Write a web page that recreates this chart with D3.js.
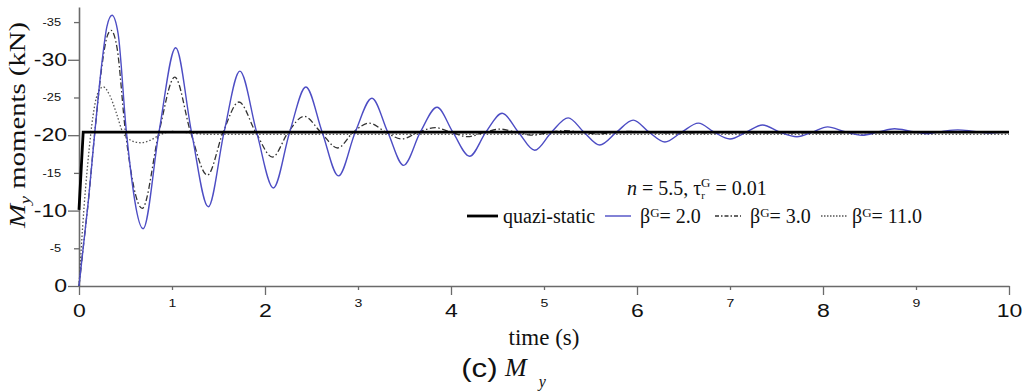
<!DOCTYPE html>
<html><head><meta charset="utf-8">
<script src="https://cdn.jsdelivr.net/npm/d3@7"></script>
<style>body{margin:0;background:#fff}</style>
</head><body><svg id="c" width="1022" height="392"></svg>
<script>
// ---------- data ----------
const xTicks = [0,1,2,3,4,5,6,7,8,9,10];
const yTicks = [0,-5,-10,-15,-20,-25,-30,-35];

const quasiT = [0, 0.045, 10];
const quasiV = [-10.1, -20.4, -20.4];

const b2T = [0,0.05,0.1,0.17,0.25,0.3,0.355,0.42,0.51,0.69,0.86,1.04,1.21,1.39,1.56,1.73,1.91,2.09,2.265,2.44,2.615,2.79,2.97,3.15,3.32,3.49,3.67,3.85,4.02,4.2,4.375,4.55,4.725,4.9,5.08,5.26,5.43,5.6,5.78,5.96,6.13,6.3,6.48,6.66,6.83,7.0,7.175,7.35,7.535,7.72,7.885,8.05,8.235,8.42,8.6,8.77,8.95,9.12,9.285,9.45,9.625,9.8,9.98];
const b2V = [0,-5.6,-11.2,-20.4,-30.0,-34.4,-35.9,-33.5,-20.4,-7.6,-20.4,-31.6,-20.4,-10.5,-20.4,-28.5,-20.4,-13.0,-20.4,-26.4,-20.4,-14.6,-20.4,-24.9,-20.4,-16.0,-20.4,-23.7,-20.4,-17.2,-20.4,-22.9,-20.4,-18.0,-20.4,-22.3,-20.4,-18.7,-20.4,-22.0,-20.4,-19.1,-20.4,-21.6,-20.4,-19.5,-20.4,-21.35,-20.4,-19.8,-20.4,-21.1,-20.45,-20.0,-20.45,-20.85,-20.5,-20.2,-20.5,-20.7,-20.5,-20.3,-20.45];

const b3T = [0,0.05,0.1,0.17,0.25,0.3,0.345,0.41,0.5,0.68,0.86,1.03,1.2,1.38,1.55,1.72,1.9,2.08,2.25,2.42,2.6,2.78,2.95,3.12,3.3,3.47,3.65,3.83,4.0,4.18,4.36,4.53,4.7,4.88,5.06,5.23,5.4,5.58,5.76,5.93,6.3,10];
const b3V = [0,-5.6,-11.2,-20.4,-29.5,-33.0,-33.9,-31.5,-20.4,-10.3,-20.4,-27.7,-20.4,-14.7,-20.4,-24.4,-20.4,-17.1,-20.4,-22.5,-20.4,-18.3,-20.4,-21.6,-20.4,-19.5,-20.4,-21.0,-20.4,-19.8,-20.4,-20.8,-20.4,-20.0,-20.4,-20.6,-20.4,-20.15,-20.4,-20.5,-20.3,-20.4];

const b11T = [0,0.04,0.1,0.15,0.2,0.26,0.33,0.4,0.47,0.56,0.66,0.76,0.88,1.0,1.15,1.4,10];
const b11V = [0,-8,-17,-22.5,-25.5,-26.4,-25.3,-23,-20.4,-19.3,-19.0,-19.3,-20.1,-20.5,-20.35,-20.1,-20.1];

const legendNames = ["quazi-static", "2.0", "3.0", "11.0"];

// ---------- drawing ----------
const svg = d3.select("#c");
const x = d3.scaleLinear().domain([0,10]).range([79,1009]);
const y = d3.scaleLinear().domain([0,-37]).range([286,7]);
const axisColor = "#6a6a6a";
const SX = 1.28;

// x axis
const gx = svg.append("g").attr("transform","translate(0,286)")
  .call(d3.axisBottom(x).tickValues(xTicks).tickSizeOuter(0).tickFormat(d3.format("d")));
gx.select(".domain").attr("stroke",axisColor).attr("stroke-width",1.6);
gx.selectAll(".tick line").attr("stroke",axisColor).attr("stroke-width",1.3)
  .attr("y2", d => d % 2 === 0 ? 9 : 4);
gx.selectAll(".tick text")
  .attr("font-family","'Liberation Sans', Arial, sans-serif")
  .attr("fill","#111")
  .attr("font-size", d => d % 2 === 0 ? 18 : 11)
  .attr("dy", null)
  .attr("y", d => d % 2 === 0 ? 31 : 21)
  .attr("transform", `scale(${SX},1)`);

// y axis
const gy = svg.append("g").attr("transform","translate(79,0)")
  .call(d3.axisLeft(y).tickValues(yTicks).tickSizeOuter(0)
    .tickFormat(d => d === 0 ? "0" : "-" + Math.abs(d)));
gy.select(".domain").attr("stroke",axisColor).attr("stroke-width",1.6);
gy.selectAll(".tick line").attr("stroke",axisColor).attr("stroke-width",1.3)
  .attr("x2", d => d % 10 === 0 ? -11 : -5);
gy.selectAll(".tick text")
  .attr("font-family","'Liberation Sans', Arial, sans-serif")
  .attr("fill","#111")
  .attr("font-size", d => d % 10 === 0 ? 18 : 10)
  .attr("x", d => (d % 10 === 0 ? -12 : -18) / SX)
  .attr("transform", `scale(${SX},1)`);

// lines
const line = d3.line().x(d => x(d[0])).y(d => y(d[1])).curve(d3.curveMonotoneX);
const zip = (a,b) => a.map((t,i)=>[t,b[i]]);

svg.append("path").datum(zip(b11T,b11V)).attr("d",line)
  .attr("fill","none").attr("stroke","#555").attr("stroke-width",1.3).attr("stroke-dasharray","1.5,2");
svg.append("path").datum(zip(b3T,b3V)).attr("d",line)
  .attr("fill","none").attr("stroke","#333").attr("stroke-width",1.3).attr("stroke-dasharray","6,2.5,1.5,2.5");
svg.append("path").datum(zip(b2T,b2V)).attr("d",line)
  .attr("fill","none").attr("stroke","#4d4dc4").attr("stroke-width",1.4);
svg.append("path").datum(zip(quasiT,quasiV)).attr("d",d3.line().x(d=>x(d[0])).y(d=>y(d[1])))
  .attr("fill","none").attr("stroke","#000").attr("stroke-width",2.8);

// axis titles
const serif = "'Liberation Serif','Times New Roman',serif";
const yt = svg.append("text")
  .attr("transform","translate(25,125) rotate(-90) scale(1.25,1)")
  .attr("text-anchor","middle").attr("font-family",serif).attr("font-size",23).attr("fill","#111");
yt.append("tspan").attr("font-style","italic").text("M");
yt.append("tspan").attr("font-style","italic").attr("font-size",15).attr("dy",5).text("y");
yt.append("tspan").attr("dy",-5).text(" moments (kN)");

svg.append("text").attr("x",544).attr("y",345).attr("text-anchor","middle")
  .attr("font-family",serif).attr("font-size",23).attr("fill","#111").text("time (s)");

// caption
svg.append("text").attr("x",461).attr("y",377)
  .attr("font-family","'Liberation Sans', Arial, sans-serif").attr("font-size",26)
  .attr("transform","translate(-92,0) scale(1.2,1)").attr("fill","#111").text("(c)");
const cap = svg.append("text").attr("x",505).attr("y",376)
  .attr("font-family",serif).attr("font-size",26).attr("font-style","italic").attr("fill","#111");
cap.append("tspan").text("M");
cap.append("tspan").attr("dx",12).attr("dy",11).attr("font-size",16).text("y");

// parameter line
const par = svg.append("text").attr("x",627).attr("y",195)
  .attr("font-family",serif).attr("font-size",20).attr("fill","#111");
par.append("tspan").attr("font-style","italic").text("n");
par.append("tspan").text(" = 5.5, τ");
par.append("tspan").attr("font-size",11).attr("dy",4).text("r");
par.append("tspan").attr("font-size",13).attr("dx",-4).attr("dy",-12).text("G");
par.append("tspan").attr("dy",8).text(" = 0.01");

// legend
const lineX = [467, 605, 715, 821];
const textX = [503, 640, 750, 852];
const styles = [
  {stroke:"#000", w:2.8, dash:null},
  {stroke:"#4d4dc4", w:1.4, dash:null},
  {stroke:"#333", w:1.3, dash:"4,2,1.5,2"},
  {stroke:"#555", w:1.3, dash:"1.5,1.5"}
];
legendNames.forEach((name,i) => {
  svg.append("line").attr("x1",lineX[i]).attr("x2",lineX[i]+(i===0?31:26))
    .attr("y1",216).attr("y2",216)
    .attr("stroke",styles[i].stroke).attr("stroke-width",styles[i].w)
    .attr("stroke-dasharray",styles[i].dash);
  const t = svg.append("text").attr("x",textX[i]).attr("y",223)
    .attr("font-family",serif).attr("font-size",20).attr("fill","#111");
  if (i === 0) { t.text(name); }
  else {
    t.append("tspan").text("β");
    t.append("tspan").attr("font-size",13).attr("dy",-6).text("G");
    t.append("tspan").attr("dy",6).text("= " + name);
  }
});
</script>
</body></html>
